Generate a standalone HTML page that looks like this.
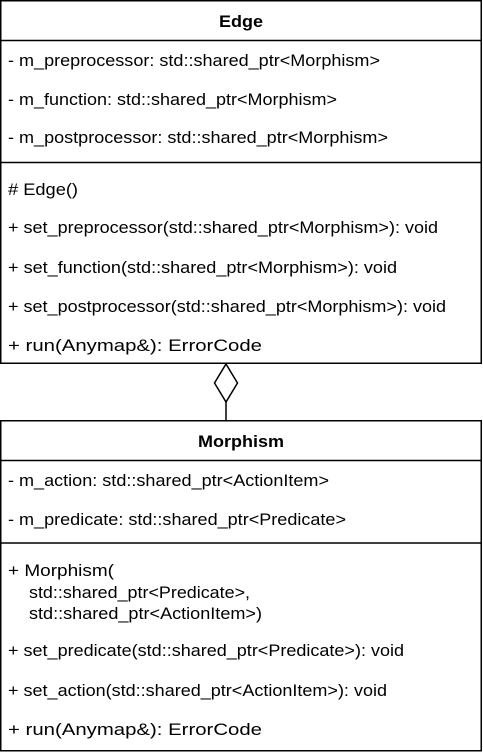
<!DOCTYPE html>
<html><head><style>
html,body{margin:0;padding:0;background:#fff;}
svg{display:block;}
text{font-family:"Liberation Sans",Arial,sans-serif;font-size:17px;fill:#000;}
.b{font-weight:bold;}
</style></head><body>
<svg width="483" height="753" viewBox="0 0 483 753" xmlns="http://www.w3.org/2000/svg">
<g fill="none" stroke="#000" stroke-width="1.5">
<rect x="0.75" y="0.75" width="480.5" height="362.5"/>
<line x1="0" y1="40.5" x2="482" y2="40.5"/>
<line x1="0" y1="162.5" x2="482" y2="162.5"/>
<rect x="0.75" y="420.75" width="480.5" height="330"/>
<line x1="0" y1="460.5" x2="482" y2="460.5"/>
<line x1="0" y1="543" x2="482" y2="543"/>
<polygon points="226,364 237.5,383 226,402 214.5,383" fill="#fff"/>
<line x1="226" y1="402" x2="226" y2="420"/>
</g>
<text class="b" x="241" y="27" text-anchor="middle" textLength="44" lengthAdjust="spacingAndGlyphs">Edge</text>
<text x="8" y="66" textLength="372" lengthAdjust="spacingAndGlyphs">- m_preprocessor: std::shared_ptr&lt;Morphism&gt;</text>
<text x="8" y="105" textLength="329" lengthAdjust="spacingAndGlyphs">- m_function: std::shared_ptr&lt;Morphism&gt;</text>
<text x="8" y="143" textLength="380" lengthAdjust="spacingAndGlyphs">- m_postprocessor: std::shared_ptr&lt;Morphism&gt;</text>
<text x="8" y="195" textLength="70" lengthAdjust="spacingAndGlyphs"># Edge()</text>
<text x="8" y="233" textLength="430" lengthAdjust="spacingAndGlyphs">+ set_preprocessor(std::shared_ptr&lt;Morphism&gt;): void</text>
<text x="8" y="273" textLength="389" lengthAdjust="spacingAndGlyphs">+ set_function(std::shared_ptr&lt;Morphism&gt;): void</text>
<text x="8" y="312" textLength="438" lengthAdjust="spacingAndGlyphs">+ set_postprocessor(std::shared_ptr&lt;Morphism&gt;): void</text>
<text x="8" y="351" textLength="254" lengthAdjust="spacingAndGlyphs">+ run(Anymap&amp;): ErrorCode</text>
<text class="b" x="241" y="447" text-anchor="middle" textLength="86" lengthAdjust="spacingAndGlyphs">Morphism</text>
<text x="8" y="486" textLength="321" lengthAdjust="spacingAndGlyphs">- m_action: std::shared_ptr&lt;ActionItem&gt;</text>
<text x="8" y="525" textLength="338" lengthAdjust="spacingAndGlyphs">- m_predicate: std::shared_ptr&lt;Predicate&gt;</text>
<text x="8" y="576" textLength="106" lengthAdjust="spacingAndGlyphs">+ Morphism(</text>
<text x="29" y="598" textLength="221" lengthAdjust="spacingAndGlyphs">std::shared_ptr&lt;Predicate&gt;,</text>
<text x="29" y="619" textLength="233" lengthAdjust="spacingAndGlyphs">std::shared_ptr&lt;ActionItem&gt;)</text>
<text x="8" y="656" textLength="396" lengthAdjust="spacingAndGlyphs">+ set_predicate(std::shared_ptr&lt;Predicate&gt;): void</text>
<text x="8" y="696" textLength="379" lengthAdjust="spacingAndGlyphs">+ set_action(std::shared_ptr&lt;ActionItem&gt;): void</text>
<text x="8" y="735" textLength="254" lengthAdjust="spacingAndGlyphs">+ run(Anymap&amp;): ErrorCode</text>
</svg>
</body></html>
